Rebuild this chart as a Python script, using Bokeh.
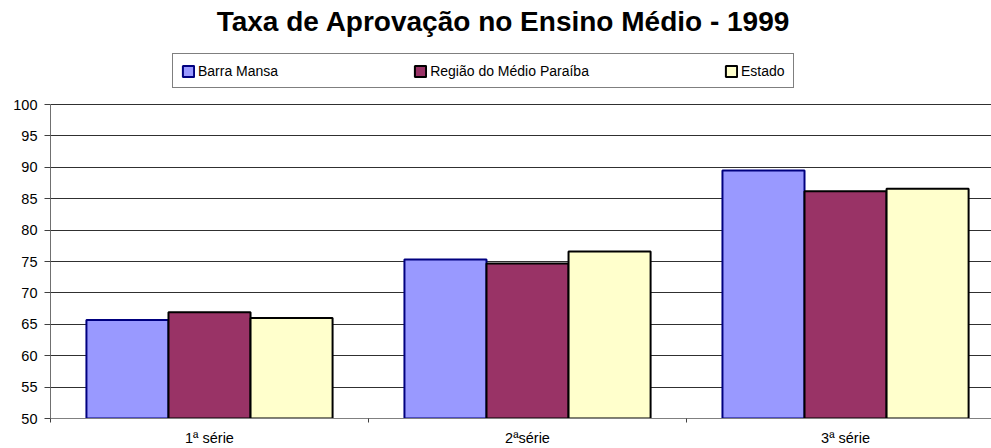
from bokeh.plotting import figure
from bokeh.models import (ColumnDataSource, FixedTicker, Legend, LegendItem,
                          Range1d, Label)
from bokeh.embed import file_html
from bokeh.resources import INLINE

categories = ["1ª série", "2ªsérie", "3ª série"]
series_names = ["Barra Mansa", "Região do Médio Paraíba", "Estado"]
barra_mansa = [65.7, 75.3, 89.5]
regiao = [66.9, 74.7, 86.2]
estado = [66.0, 76.6, 86.6]
y_ticks = [50, 55, 60, 65, 70, 75, 80, 85, 90, 95, 100]
title_text = "Taxa de Aprovação no Ensino Médio - 1999"

FONT = "Liberation Sans"
fills = ["#9999FF", "#993366", "#FFFFCC"]
lines = ["#000080", "#000000", "#000000"]
bar_w = 0.258
offsets = [-bar_w, 0.0, bar_w]

FRAME_H = 418            # frame spans screen y 0..418
AXIS_TOP_PX = 104        # screen y of value 100
ratio = AXIS_TOP_PX / FRAME_H
Y_TOP = (100 - 50 * ratio) / (1 - ratio)
PX_PER_UNIT = FRAME_H / (Y_TOP - 50)

p = figure(width=991, height=448, output_backend="svg", toolbar_location=None,
           x_range=Range1d(0, 2.959), y_range=Range1d(50, Y_TOP),
           min_border_left=50, min_border_right=0, min_border_top=0,
           min_border_bottom=448 - FRAME_H)
p.outline_line_color = None
p.background_fill_color = "white"
p.border_fill_color = "white"

items = []
for vals, name, off, fc, lc in zip([barra_mansa, regiao, estado], series_names,
                                    offsets, fills, lines):
    src = ColumnDataSource(dict(x=[i + 0.5 + off for i in range(len(categories))],
                                top=vals))
    r = p.vbar(x="x", top="top", bottom=50, width=bar_w, source=src,
               fill_color=fc, line_color=lc, line_width=2)
    items.append(LegendItem(label=name, renderers=[r]))

legend = Legend(items=items, orientation="horizontal",
                location=(172 - 50, FRAME_H - 88),
                glyph_width=14, glyph_height=14, label_standoff=3, spacing=135,
                padding=8, margin=0, label_height=17,
                label_text_font=FONT, label_text_font_size="14px",
                label_text_color="black", border_line_color="black",
                border_line_width=1, background_fill_color="white",
                background_fill_alpha=1.0)
p.add_layout(legend, "center")

p.add_layout(Label(x=(503 - 50) / 318, y=100 + (AXIS_TOP_PX - 21) / PX_PER_UNIT,
                   text=title_text, text_align="center",
                   text_baseline="middle", text_font=FONT,
                   text_font_size="28px", text_font_style="bold",
                   text_color="black"))

# axes
p.xaxis.ticker = FixedTicker(ticks=[i + 0.5 for i in range(len(categories))],
                             minor_ticks=list(range(len(categories) + 1)))
p.xaxis.major_label_overrides = {i + 0.5: c for i, c in enumerate(categories)}
p.xaxis.major_tick_line_color = None
p.xaxis.major_tick_out = 0
p.xaxis.minor_tick_out = 4
p.xaxis.minor_tick_in = 0
p.xaxis.minor_tick_line_color = "#404040"
p.xaxis.axis_line_color = "#808080"
p.xaxis.major_label_standoff = 7
p.xaxis.major_label_text_font = FONT
p.xaxis.major_label_text_font_size = "14.5px"
p.xaxis.major_label_text_color = "black"

p.yaxis.ticker = FixedTicker(ticks=y_ticks, minor_ticks=[])
p.yaxis.bounds = (50, 100)
p.yaxis.axis_line_color = "#707070"
p.yaxis.major_tick_line_color = "#404040"
p.yaxis.major_tick_out = 6
p.yaxis.major_tick_in = 0
p.yaxis.major_label_standoff = 7
p.yaxis.major_label_text_font = FONT
p.yaxis.major_label_text_font_size = "14.5px"
p.yaxis.major_label_text_color = "black"

p.xgrid.grid_line_color = None
p.ygrid.grid_line_color = "#303030"
p.ygrid.grid_line_width = 1

open("out.html", "w").write(file_html(p, INLINE))
